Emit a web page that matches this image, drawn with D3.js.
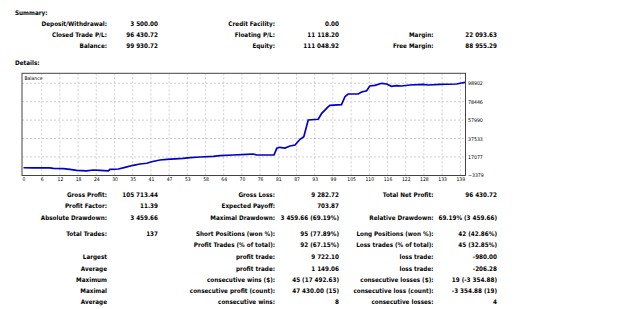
<!DOCTYPE html>
<html>
<head>
<meta charset="utf-8">
<script src="https://cdn.jsdelivr.net/npm/d3@7"></script>
<style>
  body { margin: 0; background: #fff; }
  svg text { font-family: "DejaVu Sans Condensed", "DejaVu Sans", sans-serif; fill: #000; }
  .b { font-weight: bold; }
</style>
</head>
<body>
<svg></svg>
<script>
// summary block: [label, value] per column group
const summaryRows = [
  [['Deposit/Withdrawal:', '3 500.00'], ['Credit Facility:', '0.00'], null],
  [['Closed Trade P/L:', '96 430.72'], ['Floating P/L:', '11 118.20'], ['Margin:', '22 093.63']],
  [['Balance:', '99 930.72'], ['Equity:', '111 048.92'], ['Free Margin:', '88 955.29']],
];

const detailRows = [
  [['Gross Profit:', '105 713.44'], ['Gross Loss:', '9 282.72'], ['Total Net Profit:', '96 430.72']],
  [['Profit Factor:', '11.39'], ['Expected Payoff:', '703.87'], null],
  [['Absolute Drawdown:', '3 459.66'], ['Maximal Drawdown:', '3 459.66 (69.19%)'], ['Relative Drawdown:', '69.19% (3 459.66)']],
  [['Total Trades:', '137'], ['Short Positions (won %):', '95 (77.89%)'], ['Long Positions (won %):', '42 (42.86%)']],
  [null, ['Profit Trades (% of total):', '92 (67.15%)'], ['Loss trades (% of total):', '45 (32.85%)']],
  [['Largest', ''], ['profit trade:', '9 722.10'], ['loss trade:', '-980.00']],
  [['Average', ''], ['profit trade:', '1 149.06'], ['loss trade:', '-206.28']],
  [['Maximum', ''], ['consecutive wins ($):', '45 (17 492.63)'], ['consecutive losses ($):', '19 (-3 354.88)']],
  [['Maximal', ''], ['consecutive profit (count):', '47 430.00 (15)'], ['consecutive loss (count):', '-3 354.88 (19)']],
  [['Average', ''], ['consecutive wins:', '8'], ['consecutive losses:', '4']],
];

// balance curve (trade number, balance)
const trades = [0, 3, 8.4, 9.5, 12.7, 14.8, 16.9, 20.1, 22.2, 24.3, 27, 27.5, 30.2, 32.3, 34.9, 37.1, 39.2,
  40.8, 43.4, 45.6, 50.8, 53, 56.2, 60.4, 62.5, 66.8, 71, 73.1, 74.2, 77.4, 79.7, 80.6, 81.6, 83.2, 84.8,
  86.4, 88, 89.2, 90.6, 93.8, 94.9, 97, 97.5, 101.2, 102.3, 103.3, 106.5, 107.6, 109.2, 110.2, 111.8,
  114, 115.6, 117.1, 118.7, 120.3, 123, 127.2, 128.8, 132.5, 137.8, 139.4, 140.5];
const balance = [5000, 4800, 4800, 4400, 4000, 3300, 2200, 1600, 2500, 2200, 1540, 3300, 3600, 5500, 7740, 9180, 10000,
  11740, 13630, 14400, 15520, 16190, 16970, 17750, 18410, 19190, 19970, 20300, 19190, 19190, 19190, 26640, 27750, 26970, 29200,
  30300, 36640, 39530, 58100, 58880, 65550, 72890, 74440, 75110, 84000, 87000, 87000, 89230, 90670, 95900, 96680,
  98900, 98120, 95570, 96230, 95900, 97010, 97790, 97010, 97790, 98120, 99200, 99930];

const xTickLabels = ['0', '6', '12', '18', '24', '30', '35', '41', '47', '53', '58', '64', '70', '76', '81', '87',
  '93', '99', '105', '110', '116', '122', '128', '133', '139'];
const yTicks = [-3379, 17077, 37533, 57990, 78446, 98902];

const width = 625, height = 309;
const svg = d3.select('svg').attr('width', width).attr('height', height);

const labelX = [107, 275, 433.5];
const valueX = [158, 339, 497];
const fs = 6.3;

function drawRows(rows, ys) {
  rows.forEach((row, r) => {
    row.forEach((cell, c) => {
      if (!cell) return;
      svg.append('text').attr('class', 'b')
        .attr('x', labelX[c]).attr('y', ys[r]).attr('text-anchor', 'end')
        .attr('dy', '0.35em').style('font-size', fs + 'px').text(cell[0]);
      if (cell[1])
        svg.append('text').attr('class', 'b')
          .attr('x', valueX[c]).attr('y', ys[r]).attr('text-anchor', 'end')
          .attr('dy', '0.35em').style('font-size', fs + 'px').text(cell[1]);
    });
  });
}

svg.append('text').attr('class', 'b').attr('x', 15).attr('y', 13).attr('dy', '0.35em')
  .style('font-size', fs + 'px').text('Summary:');
drawRows(summaryRows, [24, 35, 46]);

svg.append('text').attr('class', 'b').attr('x', 15).attr('y', 62.5).attr('dy', '0.35em')
  .style('font-size', fs + 'px').text('Details:');
drawRows(detailRows, [195, 206, 217.3, 233.3, 244.5, 256.5, 268.3, 279.5, 290.7, 302]);

// chart
const frame = { left: 22, top: 73.3, right: 465.5, bottom: 175.5 };

const xScale = d3.scaleLinear().domain([0, 139]).range([23.5, 460.3]);
const yScale = d3.scaleLinear().domain([-3379, 98902]).range([175.3, 83.3]);

const g = svg.append('g');

const xTickVals = xTickLabels.map((d, i) => i * 139 / 24);

g.selectAll('.vgrid')
  .data(xTickVals.slice(1))
  .enter().append('line')
    .attr('x1', (d) => xScale(d)).attr('x2', (d) => xScale(d))
    .attr('y1', frame.top).attr('y2', frame.bottom)
    .attr('stroke', '#c4c4cc').attr('stroke-width', 0.8).attr('stroke-dasharray', '2,2');

g.selectAll('.hgrid')
  .data(yTicks.slice(1))
  .enter().append('line')
    .attr('x1', frame.left).attr('x2', frame.right)
    .attr('y1', (d) => yScale(d)).attr('y2', (d) => yScale(d))
    .attr('stroke', '#c4c4cc').attr('stroke-width', 0.8).attr('stroke-dasharray', '2,2');

const pts = trades.map((t, i) => [t, balance[i]]);
g.append('path')
  .datum(pts)
  .attr('fill', 'none')
  .attr('stroke', '#0000c8')
  .attr('stroke-width', 1.7)
  .attr('d', d3.line().x((d) => xScale(d[0])).y((d) => yScale(d[1])));

g.append('rect')
  .attr('x', frame.left).attr('y', frame.top)
  .attr('width', frame.right - frame.left).attr('height', frame.bottom - frame.top)
  .attr('fill', 'none').attr('stroke', '#444').attr('stroke-width', 1);

g.append('text')
  .attr('x', frame.left + 2.5).attr('y', frame.top + 4.5).attr('dy', '0.35em')
  .style('font-size', '5px').text('Balance');

const xAxis = d3.axisBottom(xScale)
  .tickValues(xTickVals)
  .tickFormat((d, i) => xTickLabels[i])
  .tickSize(0).tickPadding(0);
const xg = g.append('g').attr('transform', `translate(0,${frame.bottom + 4})`).call(xAxis);
xg.select('.domain').remove();
xg.selectAll('text').style('font-size', '5px').style('font-family', '"DejaVu Sans Condensed", sans-serif')
  .attr('fill', '#222').attr('dy', '0.35em').attr('y', 0);

const yAxis = d3.axisRight(yScale).tickValues(yTicks).tickFormat(d3.format('d')).tickSize(0).tickPadding(0);
const yg = g.append('g').attr('transform', `translate(${frame.right + 2.5},0)`).call(yAxis);
yg.select('.domain').remove();
yg.selectAll('text').style('font-size', '5.2px').style('font-family', '"DejaVu Sans Condensed", sans-serif')
  .attr('fill', '#222');
</script>
</body>
</html>
